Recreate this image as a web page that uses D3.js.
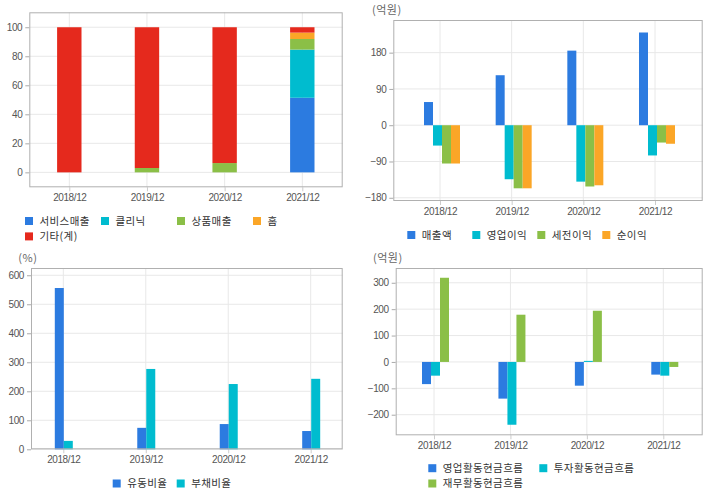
<!DOCTYPE html>
<html><head><meta charset="utf-8">
<script src="https://cdn.jsdelivr.net/npm/d3@7"></script>
<style>
body{margin:0;background:#fff;}
svg{display:block;}
.tick text{font-family:"Liberation Sans",Arial,sans-serif;font-size:10px;fill:#555;letter-spacing:-0.4px;}
.leg{font-family:"Noto Sans CJK KR",sans-serif;font-size:10.5px;fill:#333;letter-spacing:0.4px;}
.unit{font-family:"Noto Sans CJK KR",sans-serif;font-size:11px;fill:#666;letter-spacing:0.5px;}
</style></head>
<body>
<script>
// ---- data ----
const categories = ["2018/12","2019/12","2020/12","2021/12"];

// Panel 1: sales mix (%)
const mixSeries = ["서비스매출","클리닉","상품매출","홈","기타(계)"];
const serviceSales = [0, 0, 0, 51.4];
const clinic = [0, 0, 0, 33.2];
const productSales = [0, 3.0, 6.4, 7.3];
const home = [0, 0, 0, 4.4];
const etcSales = [100, 97.0, 93.6, 3.7];
const mixTicks = [0,20,40,60,80,100];

// Panel 2: income (억원)
const incomeSeries = ["매출액","영업이익","세전이익","순이익"];
const revenue = [57.5, 124, 185, 230];
const operatingIncome = [-50.5, -134, -140, -75];
const pretaxIncome = [-95, -156.5, -152, -43];
const netIncome = [-95, -156.5, -149, -46];
const incomeTicks = [-180,-90,0,90,180];

// Panel 3: ratios (%)
const ratioSeries = ["유동비율","부채비율"];
const currentRatio = [556, 74, 87, 63];
const debtRatio = [29, 277, 225, 243];
const ratioTicks = [0,100,200,300,400,500,600];

// Panel 4: cash flow (억원)
const cashSeries = ["영업활동현금흐름","투자활동현금흐름","재무활동현금흐름"];
const operatingCF = [-84, -139, -90, -48];
const investingCF = [-52, -238, 4, -52];
const financingCF = [319, 179, 194, -19];
const cashTicks = [-200,-100,0,100,200,300];

const COLORS = ["#2c7be0","#00bccf","#8bbf47","#fba627","#e5291d"];

const svg = d3.select("body").append("svg").attr("width",720).attr("height",496);

function frame(cfg){
  const g = svg.append("g");
  const y = d3.scaleLinear().domain(cfg.yDomain).range([cfg.bottom, cfg.top]);
  const x = d3.scalePoint().domain(categories).range(cfg.xRange);
  g.append("g").selectAll("line").data(cfg.ticks).join("line")
    .attr("x1",cfg.left).attr("x2",cfg.right).attr("y1",d=>y(d)).attr("y2",d=>y(d))
    .attr("stroke","#e8e8e8");
  g.append("g").selectAll("line").data(categories).join("line")
    .attr("x1",d=>x(d)).attr("x2",d=>x(d)).attr("y1",cfg.top).attr("y2",cfg.bottom)
    .attr("stroke","#e8e8e8");
  const ya = g.append("g").attr("transform",`translate(${cfg.left},0)`)
    .call(d3.axisLeft(y).tickValues(cfg.ticks).tickSize(4).tickPadding(3));
  ya.select(".domain").remove();
  ya.selectAll(".tick line").attr("stroke","#aaa");
  const xa = g.append("g").attr("transform",`translate(0,${cfg.bottom})`)
    .call(d3.axisBottom(x).tickSize(4).tickPadding(4));
  xa.select(".domain").remove();
  xa.selectAll(".tick line").attr("stroke","#ccc");
  xa.selectAll(".tick text").attr("dy","0.55em");
  return {g,x,y};
}
function border(g,cfg){
  g.append("rect").attr("x",cfg.left+0.5).attr("y",cfg.top+0.5)
   .attr("width",cfg.right-cfg.left-1).attr("height",cfg.bottom-cfg.top-1)
   .attr("fill","none").attr("stroke","#b0b0b0");
}
function legend(names, colors, lx, colW, cols, rows){
  const g = svg.append("g");
  names.forEach((n,i)=>{
    const cx = lx + (i%cols)*colW, cy = rows[Math.floor(i/cols)];
    g.append("rect").attr("x",cx).attr("y",cy-4).attr("width",8).attr("height",8).attr("fill",colors[i]);
    g.append("text").attr("class","leg").attr("x",cx+14.5).attr("y",cy).attr("dy","0.36em").text(n);
  });
}
function unit(txt,x,y){
  svg.append("text").attr("class","unit").attr("x",x).attr("y",y).attr("dy","0.36em").text(txt);
}
function groupedBars(p, seriesArr, colors, bw, shift){
  const n = seriesArr.length;
  seriesArr.forEach((vals,si)=>{
    p.g.append("g").selectAll("rect").data(vals.map((v,i)=>({c:categories[i],v}))).join("rect")
      .attr("x",d=>p.x(d.c)+shift-n*bw/2+si*bw)
      .attr("width",bw)
      .attr("y",d=>p.y(Math.max(0,d.v)))
      .attr("height",d=>Math.abs(p.y(d.v)-p.y(0)))
      .attr("fill",colors[si]);
  });
}

// ---- Panel 1 ----
{
  const cfg = {left:29.3,right:342.7,top:12.3,bottom:187.3,yDomain:[-10.3,110.3],ticks:mixTicks,xRange:[69.3,302.3]};
  const p = frame(cfg);
  const rows = categories.map((c,i)=>({c,s0:serviceSales[i],s1:clinic[i],s2:productSales[i],s3:home[i],s4:etcSales[i]}));
  const stack = d3.stack().keys(["s0","s1","s2","s3","s4"])(rows);
  const bw = 24.4;
  stack.forEach((layer,li)=>{
    p.g.append("g").selectAll("rect").data(layer).join("rect")
      .attr("x",d=>p.x(d.data.c)-bw/2).attr("width",bw)
      .attr("y",d=>p.y(d[1])).attr("height",d=>Math.max(0,p.y(d[0])-p.y(d[1])))
      .attr("fill",COLORS[li]);
  });
  border(p.g,cfg);
  legend(mixSeries, COLORS, 25, 76, 4, [221,236.4]);
}
// ---- Panel 2 ----
{
  const cfg = {left:393.3,right:702.7,top:20,bottom:201,yDomain:[-188,261],ticks:incomeTicks,xRange:[440,655]};
  const p = frame(cfg);
  groupedBars(p,[revenue,operatingIncome,pretaxIncome,netIncome],COLORS,9,2);
  border(p.g,cfg);
  unit("(억원)",372,10);
  legend(incomeSeries, COLORS, 407.3, 65, 4, [235]);
}
// ---- Panel 3 ----
{
  const cfg = {left:31,right:342.7,top:268,bottom:449.3,yDomain:[0,625],ticks:ratioTicks,xRange:[63.3,310.7]};
  const p = frame(cfg);
  groupedBars(p,[currentRatio,debtRatio],COLORS,9,0.5);
  border(p.g,cfg);
  unit("(%)",18.3,258);
  legend(ratioSeries, COLORS, 112.7, 64, 2, [483.5]);
}
// ---- Panel 4 ----
{
  const cfg = {left:395.7,right:702.7,top:268,bottom:435.3,yDomain:[-278,356],ticks:cashTicks,xRange:[434,663.3]};
  const p = frame(cfg);
  groupedBars(p,[operatingCF,investingCF,financingCF],COLORS,9,1.5);
  border(p.g,cfg);
  unit("(억원)",373,258);
  legend(cashSeries, COLORS, 428.3, 111, 2, [468.2,483.5]);
}
</script>
</body></html>
